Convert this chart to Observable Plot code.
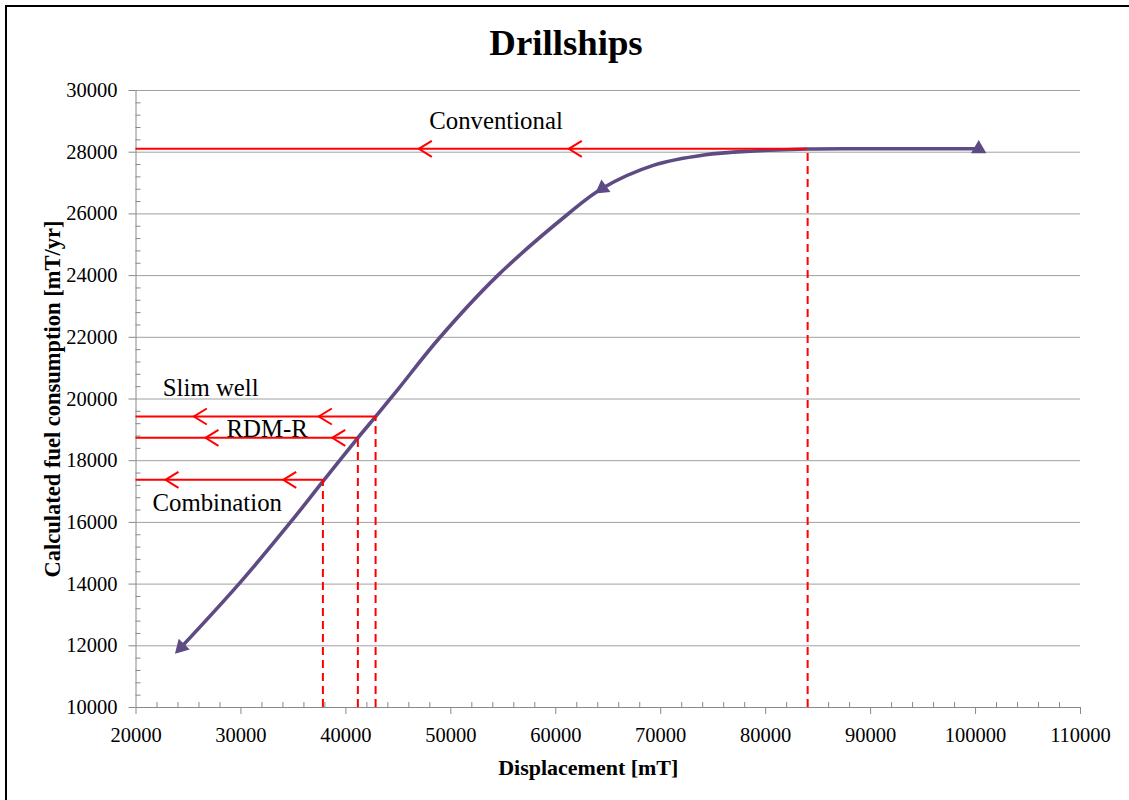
<!DOCTYPE html>
<html>
<head>
<meta charset="utf-8">
<script src="https://cdn.jsdelivr.net/npm/d3@7"></script>
<script src="https://cdn.jsdelivr.net/npm/@observablehq/plot@0.6"></script>
<style>
  html, body { margin: 0; padding: 0; background: #fff; overflow: hidden; }
  #wrap { position: relative; width: 1129px; height: 800px; }
  #chart { position: absolute; left: 0; top: 0; }
  #title { position: absolute; left: 0; top: 25px; width: 1132px; text-align: center;
           font-family: "Liberation Serif", "Times New Roman", serif; font-weight: bold;
           font-size: 36.8px; line-height: 36.8px; color: #000; }
  #frame { position: absolute; left: 5px; top: 5px; width: 1300px; height: 1000px;
           border-left: 2px solid #000; border-top: 2px solid #000; pointer-events: none; }
</style>
</head>
<body>
<div id="wrap">
  <div id="chart"></div>
  <div id="title">Drillships</div>
  <div id="frame"></div>
</div>
<script>
// ---- Data ----
const curveX = [24300, 30000, 34900, 37810, 41140, 42830, 45000, 48870, 54430, 61110, 64440, 69360, 74130, 78900, 84000, 92000, 100300];
const curveY = [11950, 14080, 16080, 17330, 18740, 19430, 20330, 21960, 23990, 25980, 26830, 27580, 27910, 28040, 28105, 28110, 28110];

const markerX = [24300, 64440, 100300];
const markerY = [11950, 26830, 28110];
const markerRotate = [224, 234, 0];

const refNames = ["Conventional", "Slim well", "RDM-R", "Combination"];
const refX = [84000, 42830, 41140, 37810];
const refY = [28110, 19433, 18742, 17381];
const chevronX = [[46950, 61240], [25510, 37420], [26620, 38700], [22810, 34030]];

const labelX = [54305, 27118, 32502, 27738];
const labelY = [29008, 20363, 19034, 16635];

const xTicks = [20000, 30000, 40000, 50000, 60000, 70000, 80000, 90000, 100000, 110000];
const yTicks = [10000, 12000, 14000, 16000, 18000, 20000, 22000, 24000, 26000, 28000, 30000];
const xMinor = d3.range(20000, 110001, 2000).filter(v => v % 10000 !== 0);
const yMinor = d3.range(10000, 30001, 400).filter(v => v % 2000 !== 0);

const xTitle = "Displacement [mT]";
const yTitle = "Calculated fuel consumption [mT/yr]";

// ---- Tables ----
const curve = curveX.map((x, i) => ({x, y: curveY[i]}));
const markers = markerX.map((x, i) => ({x, y: markerY[i], r: markerRotate[i]}));
const refs = refNames.map((name, i) => ({name, x: refX[i], y: refY[i]}));
const chevrons = refs.flatMap((d, i) => chevronX[i].map(x => ({x, y: d.y})));
const labels = refNames.map((name, i) => ({name, x: labelX[i], y: labelY[i]}));

const purple = "#5e4b84";
const red = "#ff0000";
const chevronSymbol = {
  draw(ctx) { ctx.moveTo(13, -8); ctx.lineTo(0, 0); ctx.lineTo(13, 8); }
};

const chart = Plot.plot({
  width: 1129,
  height: 800,
  marginLeft: 135.5,
  marginRight: 49,
  marginTop: 90,
  marginBottom: 93,
  x: {domain: [20000, 110000]},
  y: {domain: [10000, 30000]},
  style: {fontFamily: "'Liberation Serif', 'Times New Roman', serif", background: "transparent", color: "#000"},
  marks: [
    Plot.gridY(yTicks.filter(v => v !== 10000), {stroke: "#a0a0a0", strokeOpacity: 1}),
    Plot.ruleX([20000], {stroke: "#888"}),
    Plot.ruleY([10000], {stroke: "#888"}),
    Plot.axisY(yTicks, {tickSize: 7, tickPadding: 11.5, tickFormat: d => String(d), fontSize: 20.5, stroke: "#888", fill: "#000", label: null}),
    Plot.axisY(yMinor, {tickSize: -5, stroke: "#888", fill: "none", label: null}),
    Plot.axisX(xTicks, {tickSize: 7, tickPadding: 12.5, tickFormat: d => String(d), fontSize: 20.5, stroke: "#888", fill: "#000", label: null}),
    Plot.axisX(xMinor, {tickSize: -5, stroke: "#888", fill: "none", label: null}),
    Plot.line(curve, {x: "x", y: "y", curve: "catmull-rom", stroke: purple, strokeWidth: 3.6}),
    Plot.dot(markers, {x: "x", y: "y", rotate: "r", symbol: "triangle", r: 5.7, fill: purple, stroke: "none"}),
    Plot.ruleY(refs, {y: "y", x1: 20000, x2: "x", stroke: red, strokeWidth: 2}),
    Plot.ruleX(refs, {x: "x", y1: 10000, y2: "y", stroke: red, strokeWidth: 2, strokeDasharray: "8,5"}),
    Plot.dot(chevrons, {x: "x", y: "y", symbol: chevronSymbol, fill: "none", stroke: red, strokeWidth: 2}),
    Plot.text(labels, {x: "x", y: "y", text: "name", fontSize: 24.8, fill: "#000"}),
    Plot.text([xTitle], {frameAnchor: "bottom", lineAnchor: "middle", dy: 60, dx: -20, fontSize: 22, fontWeight: "bold", fill: "#000"}),
    Plot.text([yTitle], {frameAnchor: "left", textAnchor: "middle", lineAnchor: "middle", rotate: -90, dx: -83.7, fontSize: 22.5, fontWeight: "bold", fill: "#000"})
  ]
});
document.getElementById("chart").appendChild(chart);
</script>
</body>
</html>
